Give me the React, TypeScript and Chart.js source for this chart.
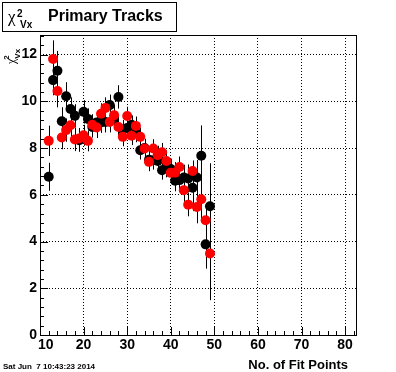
import React, { useEffect, useRef } from "react";
import { Chart, registerables } from "chart.js";

Chart.register(...registerables);

// ---- data ----
const fitPoints = [12, 13, 14, 15, 16, 17, 18, 19, 20, 21, 22, 23, 24, 25, 26, 27, 28, 29, 30, 31, 32, 33, 34, 35, 36, 37, 38, 39, 40, 41, 42, 43, 44, 45, 46, 47, 48, 49];
const chi2Black = [6.77, 10.91, 11.31, 9.15, 10.22, 9.67, 9.38, 8.34, 9.55, 9.25, 8.9, 9.1, 9.1, 9.12, 9.84, 9.25, 10.19, 8.8, 8.86, 9.0, 8.65, 7.91, 8.0, 7.5, 7.48, 7.45, 7.05, 7.2, 7.1, 6.6, 6.63, 6.74, 6.7, 6.3, 6.74, 7.67, 3.88, 5.51];
const chi2BlackErr = [0.6, 0.65, 0.85, 0.6, 0.6, 0.5, 0.5, 0.5, 0.5, 0.45, 0.45, 0.45, 0.45, 0.45, 0.45, 0.45, 0.5, 0.4, 0.4, 0.4, 0.4, 0.4, 0.4, 0.4, 0.4, 0.4, 0.4, 0.45, 0.45, 0.45, 0.5, 0.55, 0.6, 1.0, 0.75, 1.3, 1.04, 1.84];
const chi2Red = [8.31, 11.81, 10.44, 8.45, 8.77, 8.98, 8.37, 8.41, 8.55, 8.31, 9.0, 8.88, 9.47, 9.72, 9.12, 9.41, 8.9, 8.48, 9.37, 8.53, 8.95, 8.48, 7.98, 7.41, 7.98, 7.7, 7.82, 7.45, 6.94, 6.95, 7.19, 6.2, 5.58, 7.02, 5.48, 5.81, 4.91, 3.49];
const chi2RedErr = [0.65, 0.8, 0.7, 0.5, 0.5, 0.5, 0.5, 0.45, 0.45, 0.45, 0.45, 0.45, 0.45, 0.45, 0.45, 0.45, 0.45, 0.4, 0.4, 0.4, 0.4, 0.4, 0.4, 0.4, 0.4, 0.4, 0.4, 0.45, 0.45, 0.45, 0.45, 0.5, 0.5, 0.45, 0.7, 0.9, 0.72, 2.0];
const xTickValues = [10, 20, 30, 40, 50, 60, 70, 80];
const yTickValues = [0, 2, 4, 6, 8, 10, 12];
const X_MIN = 10;
const X_MAX = 82.5;
const Y_MIN = 0;
const Y_MAX = 12.84;

const FONT = '"Liberation Sans", Arial, Helvetica, sans-serif';

const errorBarPlugin = {
  id: "errorBars",
  beforeDatasetsDraw(chart: any) {
    const { ctx, chartArea, scales } = chart;
    const xs = scales.x;
    const ys = scales.y;
    ctx.save();
    ctx.beginPath();
    ctx.rect(chartArea.left, chartArea.top, chartArea.right - chartArea.left, chartArea.bottom - chartArea.top);
    ctx.clip();
    ctx.strokeStyle = "#000";
    ctx.lineWidth = 1;
    chart.data.datasets.forEach((ds: any) => {
      ds.data.forEach((p: any, i: number) => {
        const e = ds.errors[i];
        const px = Math.round(xs.getPixelForValue(p.x)) + 0.5;
        ctx.beginPath();
        ctx.moveTo(px, ys.getPixelForValue(p.y + e));
        ctx.lineTo(px, ys.getPixelForValue(p.y - e));
        ctx.stroke();
      });
    });
    ctx.restore();
  },
};

const framePlugin = {
  id: "rootFrame",
  beforeDatasetsDraw(chart: any) {
    const { ctx, chartArea, scales } = chart;
    const { left, right, top, bottom } = chartArea;
    const xs = scales.x;
    const ys = scales.y;
    ctx.save();
    ctx.strokeStyle = "#000";
    ctx.lineWidth = 1;
    ctx.setLineDash([]);
    ctx.beginPath();
    for (let v = X_MIN; v <= X_MAX + 1e-6; v += 2) {
      const px = Math.round(xs.getPixelForValue(v)) + 0.5;
      const major = Math.abs(v % 10) < 1e-6;
      const len = major ? 8 : 4;
      ctx.moveTo(px, bottom);
      ctx.lineTo(px, bottom - len);
    }
    for (let k = 0; k * 0.4 <= Y_MAX + 1e-6; k++) {
      const v = k * 0.4;
      const py = Math.round(ys.getPixelForValue(v)) + 0.5;
      const major = k % 5 === 0;
      const len = major ? 8 : 4;
      ctx.moveTo(left, py);
      ctx.lineTo(left + len, py);
    }
    ctx.stroke();
    ctx.strokeRect(Math.round(left) + 0.5, Math.round(top) + 0.5, Math.round(right - left), Math.round(bottom - top));
    ctx.restore();
  },
};

const textPlugin = {
  id: "rootText",
  afterDraw(chart: any) {
    const { ctx } = chart;
    ctx.save();
    ctx.fillStyle = "#000";
    ctx.textBaseline = "alphabetic";
    ctx.textAlign = "left";

    // title box
    ctx.fillStyle = "#fff";
    ctx.fillRect(2, 2, 174, 29);
    ctx.strokeStyle = "#000";
    ctx.lineWidth = 1;
    ctx.strokeRect(2.5, 2.5, 174, 29);
    ctx.fillStyle = "#000";
    ctx.font = '17px "Liberation Serif", serif';
    ctx.fillText("\u03c7", 8, 22);
    ctx.font = "bold 10px " + FONT;
    ctx.fillText("2", 17, 17);
    ctx.fillText("Vx", 20, 28);
    ctx.font = "bold 16px " + FONT;
    ctx.fillText("Primary Tracks", 48, 21);

    // y axis title (rotated)
    ctx.save();
    ctx.translate(15, 64);
    ctx.rotate(-Math.PI / 2);
    ctx.font = '12px "Liberation Serif", serif';
    ctx.fillText("\u03c7", 0, 0);
    const w = ctx.measureText("\u03c7").width;
    ctx.font = "bold 8px " + FONT;
    ctx.fillText("2", w - 1, -6);
    ctx.fillText("Vx", w, 5);
    ctx.restore();

    // x axis title
    ctx.font = "bold 13px " + FONT;
    ctx.textAlign = "right";
    ctx.fillText("No. of Fit Points", 348, 369);

    // date stamp
    ctx.textAlign = "left";
    ctx.font = "bold 8px " + FONT;
    ctx.fillText("Sat Jun  7 10:43:23 2014", 3, 369);
    ctx.restore();
  },
};

export default function App() {
  const canvasRef = useRef<HTMLCanvasElement | null>(null);

  useEffect(() => {
    const canvas = canvasRef.current;
    if (!canvas) return;
    const blackData = fitPoints.map((x, i) => ({ x, y: chi2Black[i] }));
    const redData = fitPoints.map((x, i) => ({ x, y: chi2Red[i] }));

    const chart = new Chart(canvas, {
      type: "scatter",
      data: {
        datasets: [
          {
            label: "red",
            data: redData,
            errors: chi2RedErr,
            backgroundColor: "#ff0000",
            borderColor: "#ff0000",
            pointRadius: 5,
            pointBorderWidth: 0,
            order: 0,
          } as any,
          {
            label: "black",
            data: blackData,
            errors: chi2BlackErr,
            backgroundColor: "#000000",
            borderColor: "#000000",
            pointRadius: 5,
            pointBorderWidth: 0,
            order: 1,
          } as any,
        ],
      },
      options: {
        animation: false,
        responsive: false,
        devicePixelRatio: 1,
        events: [],
        layout: { padding: { top: 35, right: 40, left: 0, bottom: 0 } },
        plugins: {
          legend: { display: false },
          tooltip: { enabled: false },
          title: { display: false },
        },
        scales: {
          x: {
            type: "linear",
            min: X_MIN,
            max: X_MAX,
            afterBuildTicks: (s: any) => {
              s.ticks = xTickValues.map((v) => ({ value: v }));
            },
            afterFit: (s: any) => {
              s.height = 37;
            },
            ticks: {
              color: "#000",
              padding: 2,
              maxRotation: 0,
              autoSkip: false,
              font: { family: FONT, size: 14, weight: "bold" },
              callback: (v: any) => (v === 10 ? "   10" : String(v)),
            },
            grid: { color: "#000", lineWidth: 1, drawTicks: false },
            border: { display: false, dash: [1, 2] },
          },
          y: {
            type: "linear",
            min: Y_MIN,
            max: Y_MAX,
            afterBuildTicks: (s: any) => {
              s.ticks = yTickValues.map((v) => ({ value: v }));
            },
            afterFit: (s: any) => {
              s.width = 40;
            },
            ticks: {
              color: "#000",
              padding: 3,
              autoSkip: false,
              font: { family: FONT, size: 14, weight: "bold" },
            },
            grid: { color: "#000", lineWidth: 1, drawTicks: false },
            border: { display: false, dash: [1, 2] },
          },
        },
      } as any,
      plugins: [framePlugin, errorBarPlugin, textPlugin],
    });

    return () => {
      chart.destroy();
    };
  }, []);

  return (
    <div style={{ position: "fixed", left: 0, top: 0, width: 396, height: 372, background: "#fff" }}>
      <canvas ref={canvasRef} width={396} height={372} style={{ display: "block", width: 396, height: 372 }} />
    </div>
  );
}
